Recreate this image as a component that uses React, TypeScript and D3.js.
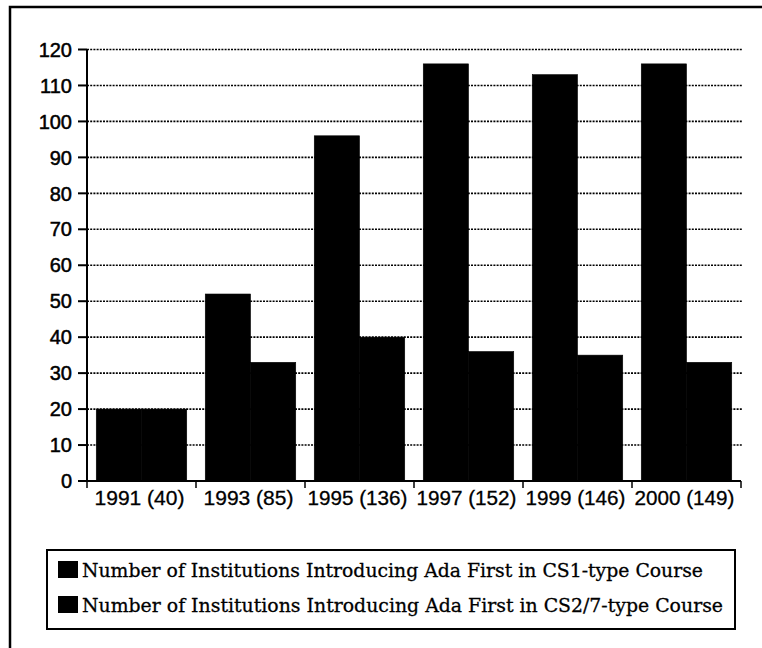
import React from "react"
import * as d3 from "d3"

// data
const categories = ["1991 (40)", "1993 (85)", "1995 (136)", "1997 (152)", "1999 (146)", "2000 (149)"]
const seriesNames = [
  "Number of Institutions Introducing Ada First in CS1-type Course",
  "Number of Institutions Introducing Ada First in CS2/7-type Course",
]
const cs1Values = [20, 52, 96, 116, 113, 116]
const cs2Values = [20, 33, 40, 36, 35, 33]
const yTicks = [0, 10, 20, 30, 40, 50, 60, 70, 80, 90, 100, 110, 120]

const W = 762
const H = 648

const plot = { left: 87, right: 741, top: 49.5, bottom: 481 }

const axisFont = "'Liberation Sans', Arial, sans-serif"
const legendFont = "'DejaVu Serif', 'Liberation Serif', serif"

const App: React.FC = () => {
  const x0 = d3.scaleBand<string>()
    .domain(categories)
    .range([plot.left, plot.right])
    .paddingInner(0.17)
    .paddingOuter(0.085)

  const x1 = d3.scaleBand<string>()
    .domain(["cs1", "cs2"])
    .range([0, x0.bandwidth()])
    .padding(0)

  const y = d3.scaleLinear().domain([0, 120]).range([plot.bottom, plot.top])

  const step = x0.step()
  const boundaries = d3.range(categories.length + 1).map(i => plot.left + i * step)

  const rows = categories.map((c, i) => ({ cat: c, cs1: cs1Values[i], cs2: cs2Values[i] }))

  return (
    <svg width={W} height={H} style={{ position: "absolute", left: 0, top: 0, background: "#fff" }}>
      <rect x={0} y={0} width={W} height={H} fill="#fff" />
      {/* outer frame, runs off right and bottom */}
      <rect x={10} y={7} width={W + 20} height={H + 20} fill="none" stroke="#000" strokeWidth={2.5} />

      {/* dotted gridlines */}
      <g>
        {yTicks.filter(t => t > 0).map(t => (
          <line key={t} x1={plot.left} x2={plot.right + 2} y1={y(t)} y2={y(t)}
            stroke="#000" strokeWidth={1.6} strokeDasharray="2 1.2" />
        ))}
      </g>

      {/* bars */}
      <g>
        {rows.map(r => (
          <g key={r.cat} transform={`translate(${x0(r.cat)},0)`}>
            <rect x={x1("cs1")} y={y(r.cs1)} width={x1.bandwidth()} height={y(0) - y(r.cs1)}
              fill="#000" stroke="#000" strokeWidth={0.6} />
            <rect x={x1("cs2")} y={y(r.cs2)} width={x1.bandwidth()} height={y(0) - y(r.cs2)}
              fill="#000" stroke="#000" strokeWidth={0.6} />
          </g>
        ))}
      </g>

      {/* y axis */}
      <line x1={plot.left} x2={plot.left} y1={y(120)} y2={y(0)} stroke="#000" strokeWidth={2} />
      {yTicks.map(t => (
        <g key={t}>
          <line x1={plot.left - 9} x2={plot.left} y1={y(t)} y2={y(t)} stroke="#000" strokeWidth={2} />
          <text x={plot.left - 15} y={y(t)} dy="0.36em" textAnchor="end"
            fontFamily={axisFont} fontSize={20} fill="#000" stroke="#000" strokeWidth={0.5}>{t}</text>
        </g>
      ))}

      {/* x axis */}
      <line x1={plot.left} x2={plot.right} y1={y(0)} y2={y(0)} stroke="#000" strokeWidth={2} />
      {boundaries.map((b, i) => (
        <line key={i} x1={b} x2={b} y1={y(0)} y2={y(0) + 7} stroke="#000" strokeWidth={1.5} />
      ))}
      {categories.map(c => (
        <text key={c} x={(x0(c) ?? 0) + x0.bandwidth() / 2 - 2} y={505} textAnchor="middle"
          fontFamily={axisFont} fontSize={20} fill="#000" stroke="#000" strokeWidth={0.3}
          textLength={c.length > 9 ? 100 : 90} lengthAdjust="spacingAndGlyphs">{c}</text>
      ))}

      {/* legend */}
      <rect x={47} y={550} width={688} height={79} fill="none" stroke="#000" strokeWidth={2} />
      {seriesNames.map((s, i) => (
        <g key={s} transform={`translate(0, ${i * 35})`}>
          <rect x={58} y={561} width={20} height={17} fill="#000" />
          <text x={82} y={577} fontFamily={legendFont} fontSize={19} fill="#000" stroke="#000" strokeWidth={0.3}
            textLength={i === 0 ? 621 : 641} lengthAdjust="spacingAndGlyphs">{s}</text>
        </g>
      ))}
    </svg>
  )
}

export default App
